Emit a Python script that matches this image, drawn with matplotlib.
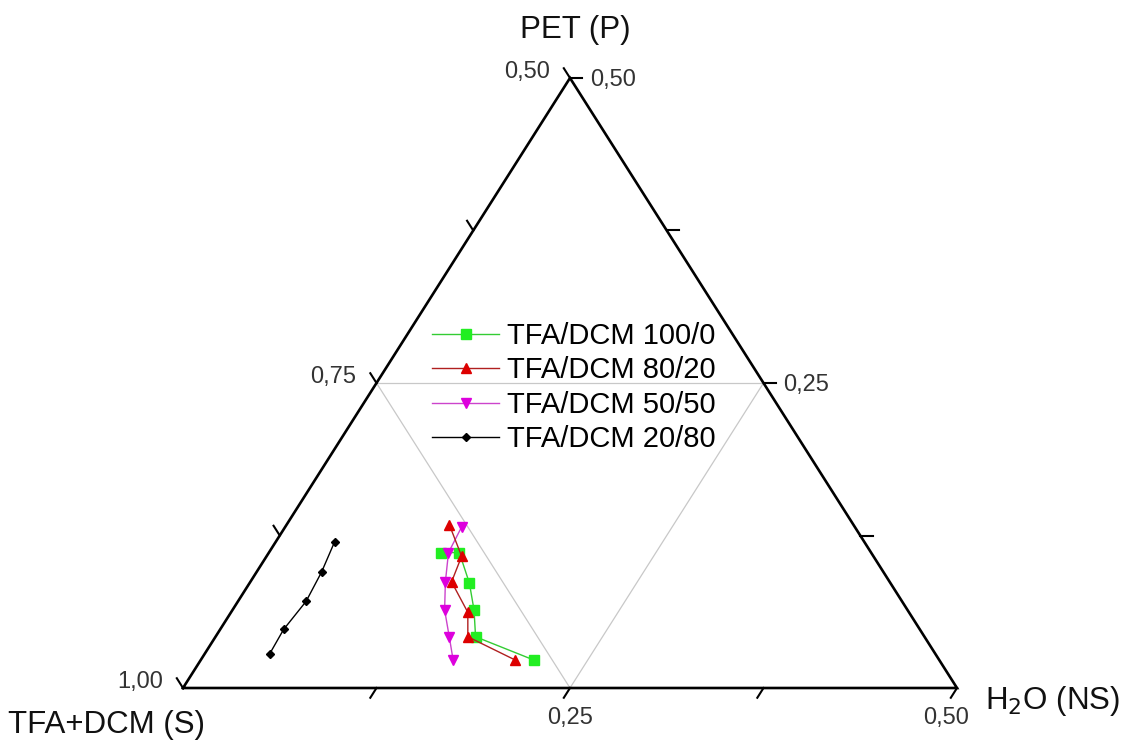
import numpy as np
import matplotlib
matplotlib.use("Agg")
import matplotlib.pyplot as plt

plt.rcParams['font.family'] = ['Liberation Sans', 'DejaVu Sans']

# mass fractions; solvent S = 1 - P - NS
labels = ["TFA/DCM 100/0", "TFA/DCM 80/20", "TFA/DCM 50/50", "TFA/DCM 20/80"]

pet_100_0 = [0.111, 0.111, 0.086, 0.064, 0.042, 0.023]
h2o_100_0 = [0.111, 0.123, 0.142, 0.156, 0.168, 0.215]

pet_80_20 = [0.134, 0.108, 0.087, 0.062, 0.042, 0.023]
h2o_80_20 = [0.105, 0.126, 0.130, 0.153, 0.163, 0.203]

pet_50_50 = [0.132, 0.111, 0.087, 0.064, 0.042, 0.023]
h2o_50_50 = [0.114, 0.116, 0.126, 0.137, 0.151, 0.163]

pet_20_80 = [0.120, 0.095, 0.071, 0.048, 0.028]
h2o_20_80 = [0.038, 0.042, 0.044, 0.041, 0.042]

# axis ranges of the zoomed ternary (P and NS 0..0.5, S 0.5..1)
s_ticks = [1.0, 0.875, 0.75, 0.625, 0.5]
s_labels = {1.0: "1,00", 0.75: "0,75", 0.5: "0,50"}
p_ticks = [0.125, 0.25, 0.375, 0.5]
p_labels = {0.25: "0,25", 0.5: "0,50"}
ns_ticks = [0.125, 0.25, 0.375, 0.5]
ns_labels = {0.25: "0,25", 0.5: "0,50"}


def tern(p, ns):
    p = np.asarray(p, dtype=float)
    ns = np.asarray(ns, dtype=float)
    return ns + p / 2.0, p


fig = plt.figure(figsize=(11.28, 7.44), dpi=100)
ax = fig.add_axes([183 / 1128, 56 / 744, 774 / 1128, 610 / 744])
ax.set_xlim(0, 0.5)
ax.set_ylim(0, 0.5)
ax.axis('off')

# outer triangle
cx, cy = tern([0, 0, 0.5, 0], [0, 0.5, 0, 0])
ax.plot(cx, cy, color='black', lw=1.9, clip_on=False, solid_joinstyle='miter', zorder=3)

# inner grid lines at 0.25 / 0.75
gx, gy = tern([0.25, 0.25], [0, 0.25])
ax.plot(gx, gy, color='#c8c8c8', lw=0.9, zorder=1)
gx, gy = tern([0.25, 0], [0, 0.25])
ax.plot(gx, gy, color='#c8c8c8', lw=0.9, zorder=1)
gx, gy = tern([0.25, 0], [0.25, 0.25])
ax.plot(gx, gy, color='#c8c8c8', lw=0.9, zorder=1)

t = 0.008
tick_kw = dict(color='black', lw=1.5, clip_on=False, zorder=3)
txt_kw = dict(textcoords='offset pixels', fontsize=17, color='#333333', va='center')

# S axis (left side), ticks point up-left
for s in s_ticks:
    p = 1 - s
    x, y = tern([p, p + t], [0, -t])
    ax.plot(x, y, **tick_kw)
    if s in s_labels:
        x0, y0 = tern(p, 0)
        ax.annotate(s_labels[s], (x0, y0), xytext=(-20, 6), ha='right', **txt_kw)

# P axis (right side), ticks point right
for p in p_ticks:
    x, y = tern([p, p], [0.5 - p, 0.5 - p + t])
    ax.plot(x, y, **tick_kw)
    if p in p_labels:
        x0, y0 = tern(p, 0.5 - p)
        ax.annotate(p_labels[p], (x0, y0), xytext=(20, -2), ha='left', **txt_kw)

# NS axis (bottom), ticks point down-left
for n in ns_ticks:
    x, y = tern([0, -t], [n, n])
    ax.plot(x, y, **tick_kw)
    if n in ns_labels:
        x0, y0 = tern(0, n)
        dx = 0 if n < 0.5 else -11
        ax.annotate(ns_labels[n], (x0, y0), xytext=(dx, -30), ha='center', **txt_kw)

# axis titles
title_kw = dict(textcoords='offset pixels', fontsize=22.5, color='#111111', va='center')
ax.annotate("PET (P)", tern(0.5, 0), xytext=(5, 48), ha='center', **title_kw)
ax.annotate("TFA+DCM (S)", tern(0, 0), xytext=(-175, -37), ha='left', **title_kw)
ax.annotate("H$_2$O (NS)", tern(0, 0.5), xytext=(28, -13), ha='left', **title_kw)

# data series
x, y = tern(pet_100_0, h2o_100_0)
ax.plot(x, y, color='#33cc33', lw=1.0, marker='s', ms=7, mfc='#22ee22', mec='#22ee22',
        label=labels[0], zorder=4)
x, y = tern(pet_80_20, h2o_80_20)
ax.plot(x, y, color='#b02020', lw=1.0, marker='^', ms=7, mfc='#dd0000', mec='#dd0000',
        label=labels[1], zorder=5)
x, y = tern(pet_50_50, h2o_50_50)
ax.plot(x, y, color='#cc44cc', lw=1.0, marker='v', ms=7, mfc='#dd00dd', mec='#dd00dd',
        label=labels[2], zorder=4)
x, y = tern(pet_20_80, h2o_20_80)
ax.plot(x, y, color='black', lw=1.0, marker='D', ms=4, mfc='black', mec='black',
        label=labels[3], zorder=4)

fig.legend(loc='upper left', bbox_to_anchor=(432 / 1128, 1 - 322 / 744), frameon=False,
           fontsize=21, handlelength=2.3, handletextpad=0.28, labelspacing=0.22,
           borderaxespad=0, borderpad=0, markerscale=0.95)

fig.savefig("out.png", dpi=100)
